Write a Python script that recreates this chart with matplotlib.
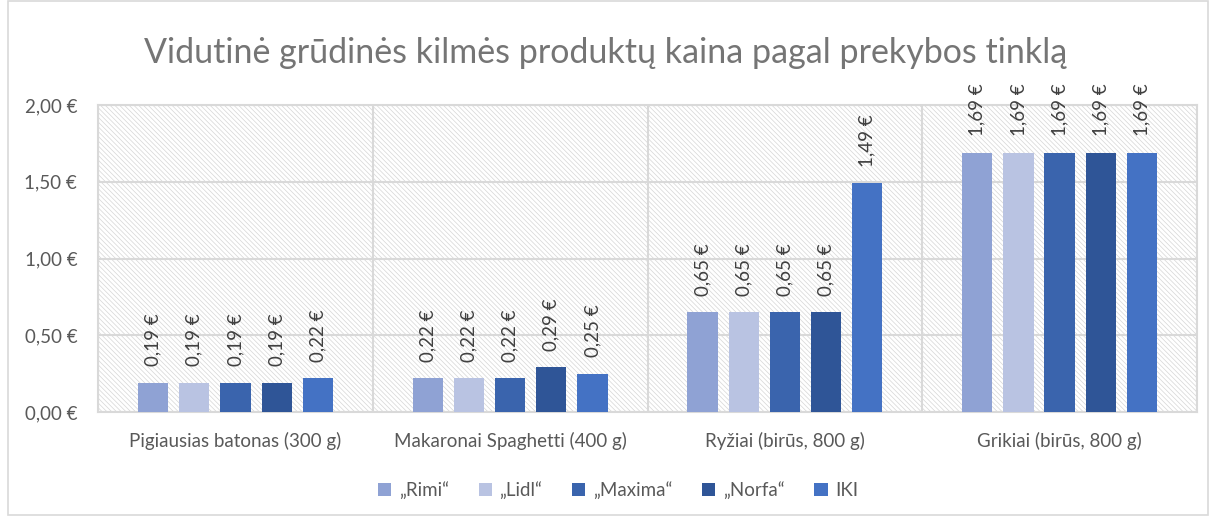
import matplotlib
matplotlib.use('Agg')
import matplotlib.pyplot as plt
import matplotlib.patches as patches
import numpy as np

plt.rcParams['font.family'] = ['Lato', 'DejaVu Sans']
plt.rcParams['hatch.linewidth'] = 0.5
plt.rcParams['hatch.color'] = '#D6D6D6'

categories = ['Pigiausias batonas (300 g)', 'Makaronai Spaghetti (400 g)',
              'Ryžiai (birūs, 800 g)', 'Grikiai (birūs, 800 g)']
stores = ['„Rimi“', '„Lidl“', '„Maxima“', '„Norfa“', 'IKI']
rimi = [0.19, 0.22, 0.65, 1.69]
lidl = [0.19, 0.22, 0.65, 1.69]
maxima = [0.19, 0.22, 0.65, 1.69]
norfa = [0.19, 0.29, 0.65, 1.69]
iki = [0.22, 0.25, 1.49, 1.69]
series = [rimi, lidl, maxima, norfa, iki]
colors = ['#8FA2D4', '#B9C3E2', '#3A64AD', '#2F5597', '#4472C4']

fig = plt.figure(figsize=(12.12, 5.17), dpi=100)
fig.patch.set_facecolor('white')
fig.add_artist(patches.Rectangle((0.007, 0.004), 0.99, 0.994, transform=fig.transFigure,
                                 fill=False, edgecolor='#D9D9D9', linewidth=1.2))

ax = fig.add_axes([0.0809, 0.2031, 0.9067, 0.5938])
ax.patch.set_facecolor('white')
ax.patch.set_hatch('\\' * 7)
ax.patch.set_edgecolor('#D6D6D6')
ax.patch.set_linewidth(0)

x = np.arange(len(categories))
bw = 0.11
step = 0.15
for i, (vals, c, name) in enumerate(zip(series, colors, stores)):
    pos = x + (i - 2) * step
    ax.bar(pos, vals, width=bw, color=c, label=name, zorder=3)
    for p, v in zip(pos, vals):
        ax.annotate(f'{v:.2f} €'.replace('.', ','), (p, v), xytext=(0, 12),
                    textcoords='offset points', rotation=90, ha='center', va='bottom',
                    fontsize=13.5, color='#404040', annotation_clip=False, zorder=4)

ax.set_xlim(-0.5, len(categories) - 0.5)
ax.set_ylim(0, 2.0)
yt = np.arange(0, 2.01, 0.5)
ax.set_yticks(yt)
ax.set_yticklabels([f'{t:.2f} €'.replace('.', ',') for t in yt])
ax.set_xticks(x)
ax.set_xticklabels(categories)
ax.tick_params(length=0, labelsize=13.5, colors='#595959')
ax.tick_params(axis='x', pad=14)
ax.tick_params(axis='y', pad=15)

for t in yt:
    ax.axhline(t, color='#D9D9D9', linewidth=1.5, zorder=1)
for b in np.arange(-0.5, len(categories), 1.0):
    ax.axvline(b, color='#D9D9D9', linewidth=1.5, zorder=1)
for s in ax.spines.values():
    s.set_color('#D9D9D9')
    s.set_linewidth(1.5)

fig.text(0.5, 0.897, 'Vidutinė grūdinės kilmės produktų kaina pagal prekybos tinklą',
         ha='center', va='center', fontsize=24.5, color='#757575')

fig.legend(loc='center', bbox_to_anchor=(0.51, 0.052), ncol=5, frameon=False,
           fontsize=13.5, labelcolor='#595959', handlelength=0.7, handleheight=0.7,
           handletextpad=0.4, columnspacing=1.6)

fig.savefig('out.png', dpi=100)
